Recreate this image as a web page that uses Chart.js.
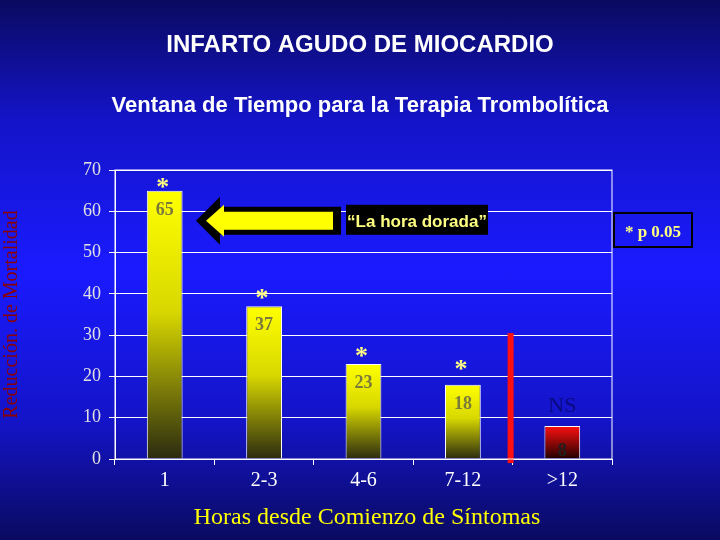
<!DOCTYPE html>
<html><head><meta charset="utf-8">
<script src="https://cdn.jsdelivr.net/npm/chart.js@4/dist/chart.umd.min.js"></script>
<style>
html,body{margin:0;padding:0;}
body{width:720px;height:540px;overflow:hidden;
  background:linear-gradient(180deg,#0a0a60 0%,#1414c8 22%,#1a1aff 50%,#1414c8 78%,#0a0a60 100%);}
#wrap{width:720px;height:540px;position:relative;}
canvas{display:block;}
</style></head>
<body><div id="wrap"><canvas id="c" width="720" height="540"></canvas></div>
<script>
// datos
const categories = ['1', '2-3', '4-6', '7-12', '>12'];
const mortalidad = [65, 37, 23, 18, 8];
const marcas = ['*', '*', '*', '*', 'NS'];
const yTicks = [0, 10, 20, 30, 40, 50, 60, 70];

const serif = '"Liberation Serif", "Times New Roman", serif';
const sans = '"Liberation Sans", Arial, sans-serif';

function barFill(ctx) {
    const chart = ctx.chart;
    const y = chart.scales.y;
    const last = ctx.dataIndex === mortalidad.length - 1;
    if (!y || !chart.chartArea) return last ? '#e00000' : '#ffff00';
    const top = y.getPixelForValue(mortalidad[ctx.dataIndex]);
    const g = chart.ctx.createLinearGradient(0, top, 0, y.getPixelForValue(0));
    if (last) { g.addColorStop(0, '#ff1010'); g.addColorStop(1, '#200000'); }
    else { g.addColorStop(0, '#ffff00'); g.addColorStop(0.45, '#d8d800'); g.addColorStop(1, '#2a2a10'); }
    return g;
}

// textos y anotaciones
const extras = {
    id: 'extras',
    afterDraw(chart) {
        const c = chart.ctx, x = chart.scales.x, y = chart.scales.y;
        c.save();
        c.textAlign = 'center';
        c.fillStyle = '#ffffff';
        c.font = 'bold 24px ' + sans;
        c.fillText('INFARTO AGUDO DE MIOCARDIO', 360, 52);
        c.font = 'bold 22px ' + sans;
        c.fillText('Ventana de Tiempo para la Terapia Trombolítica', 360, 112);

        // valores y marcas
        mortalidad.forEach((v, i) => {
            const px = x.getPixelForValue(i), py = y.getPixelForValue(v);
            c.font = 'bold 18px ' + serif;
            c.fillStyle = i === 4 ? '#202020' : '#7a7a3a';
            c.fillText(String(v), px, py + (i === 4 ? 30 : 24));
            if (marcas[i] === 'NS') {
                c.font = '22px ' + serif; c.fillStyle = '#0a0a80';
                c.fillText('NS', px, py - 14);
            } else {
                c.font = 'bold 26px ' + serif; c.fillStyle = '#ffff80';
                c.fillText('*', px - 2, py + 14 - (i === 3 ? 8 : 0) + (i === 0 ? 4 : 0) - 14);
            }
        });

        // línea roja
        const lx = (x.getPixelForValue(3) + x.getPixelForValue(4)) / 2 - 2;
        c.fillStyle = '#ff1010';
        c.fillRect(lx - 3, y.getPixelForValue(30.5), 6, y.getPixelForValue(0) - y.getPixelForValue(30.5) + 4);

        // flecha
        const ay = y.getPixelForValue(57.7);
        c.fillStyle = '#000';
        c.beginPath();
        c.moveTo(196, ay); c.lineTo(220, ay - 24); c.lineTo(220, ay - 14); c.lineTo(341, ay - 14);
        c.lineTo(341, ay + 14); c.lineTo(220, ay + 14); c.lineTo(220, ay + 24); c.closePath(); c.fill();
        c.fillStyle = '#ffff00';
        c.beginPath();
        c.moveTo(206, ay); c.lineTo(224, ay - 16); c.lineTo(224, ay - 9); c.lineTo(333, ay - 9);
        c.lineTo(333, ay + 9); c.lineTo(224, ay + 9); c.lineTo(224, ay + 16); c.closePath(); c.fill();

        c.fillStyle = '#000';
        c.fillRect(346, ay - 16, 142, 30);
        c.fillStyle = '#ffff80';
        c.font = 'bold 17px ' + sans;
        c.fillText('“La hora dorada”', 417, ay + 6);

        c.strokeStyle = '#000'; c.lineWidth = 2;
        c.strokeRect(614, 213, 78, 34);
        c.font = 'bold 17px ' + serif;
        c.fillText('* p 0.05', 653, 237);

        c.fillStyle = '#ffff00';
        c.font = '24px ' + serif;
        c.fillText('Horas desde Comienzo de Síntomas', 367, 524);

        // borde del área
        const a = chart.chartArea;
        c.strokeStyle = '#ffffff'; c.lineWidth = 1;
        c.strokeRect(a.left, a.top, a.right - a.left, a.bottom - a.top);
        c.restore();
    }
};

new Chart(document.getElementById('c'), {
    type: 'bar',
    data: {
        labels: categories,
        datasets: [{
            data: mortalidad,
            backgroundColor: barFill,
            borderColor: '#ffffff',
            borderWidth: 1,
            barPercentage: 0.36,
            categoryPercentage: 1
        }]
    },
    options: {
        responsive: false,
        animation: false,
        devicePixelRatio: 1,
        layout: { padding: { top: 170, right: 108, left: 0, bottom: 0 } },
        plugins: { legend: { display: false }, tooltip: { enabled: false } },
        scales: {
            x: {
                afterFit: s => { s.height = 81; },
                grid: { drawOnChartArea: false, color: '#ffffff', tickLength: 6 },
                border: { color: '#ffffff' },
                ticks: { color: '#ffffff', font: { family: serif, size: 20 }, padding: 4 }
            },
            y: {
                min: 0, max: 70,
                afterFit: s => { s.width = 115; },
                afterBuildTicks: s => { s.ticks = yTicks.map(v => ({ value: v })); },
                grid: { color: '#ffffff', tickLength: 6 },
                border: { color: '#ffffff' },
                ticks: { color: '#e0e0e0', font: { family: serif, size: 18 }, padding: 8 },
                title: { display: true, text: 'Reducción. de Mortalidad', color: '#8b0000',
                         font: { family: serif, size: 20 }, padding: 0 }
            }
        }
    },
    plugins: [extras]
});
</script>
</body></html>
